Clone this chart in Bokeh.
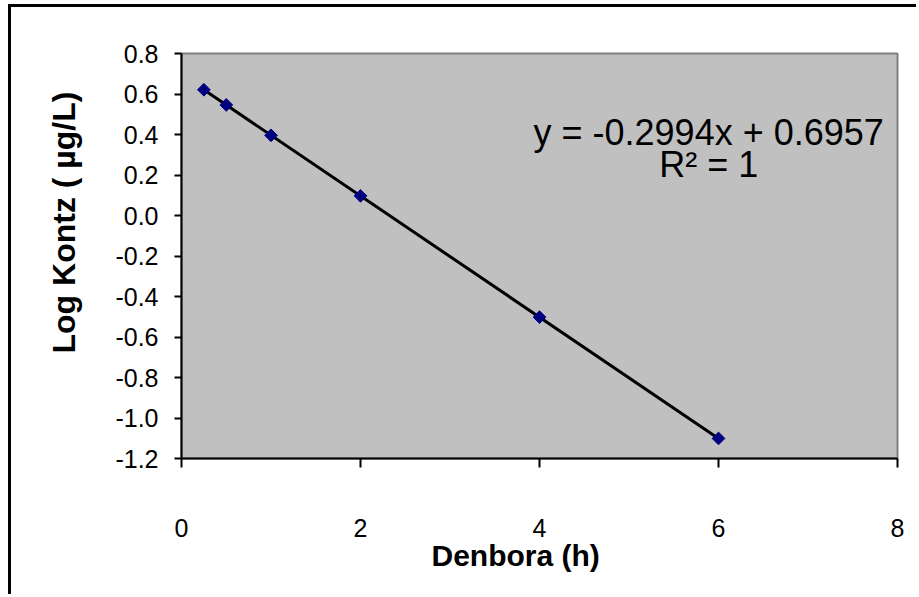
import numpy as np
from bokeh.plotting import figure
from bokeh.models import Range1d, FixedTicker, NumeralTickFormatter, Label, Title
from bokeh.embed import file_html
from bokeh.resources import INLINE

# ---- data ----
hours = [0.25, 0.5, 1, 2, 4, 6]
log_conc = [0.621, 0.546, 0.396, 0.097, -0.502, -1.101]
x_ticks = [0, 2, 4, 6, 8]
y_ticks = [-1.2, -1.0, -0.8, -0.6, -0.4, -0.2, 0.0, 0.2, 0.4, 0.6, 0.8]
x_title = "Denbora (h)"
y_title = "Log Kontz ( µg/L)"
eq_text = "y = -0.2994x + 0.6957"
r2_text = "R² = 1"

# linear trendline fitted from the data
slope, intercept = np.polyfit(hours, log_conc, 1)
trend_x = [min(hours), max(hours)]
trend_y = [slope * v + intercept for v in trend_x]

FONT = "Liberation Sans"

p = figure(width=908, height=590, output_backend="svg", toolbar_location=None,
           x_range=Range1d(0, 8), y_range=Range1d(-1.2, 0.8),
           min_border_left=170, min_border_right=22, min_border_top=46, min_border_bottom=139)
p.styles = {"margin-left": "8px", "margin-top": "4px",
            "border-left": "3px solid black", "border-top": "3px solid black"}

p.background_fill_color = "#C0C0C0"
p.border_fill_color = "white"
p.outline_line_color = "#808080"
p.outline_line_width = 2
p.xgrid.visible = False
p.ygrid.visible = False

for ax in (p.xaxis[0], p.yaxis[0]):
    ax.axis_line_color = "black"
    ax.axis_line_width = 2
    ax.major_tick_line_color = "black"
    ax.major_tick_line_width = 2
    ax.major_tick_in = 0
    ax.minor_tick_line_color = None
    ax.major_label_text_font = FONT
    ax.major_label_text_font_size = "25px"
    ax.major_label_text_color = "black"

p.xaxis.ticker = FixedTicker(ticks=x_ticks)
p.yaxis.ticker = FixedTicker(ticks=y_ticks)
p.xaxis.formatter = NumeralTickFormatter(format="0")
p.yaxis.formatter = NumeralTickFormatter(format="0.0")
p.xaxis.major_tick_out = 9
p.yaxis.major_tick_out = 7
p.xaxis.major_label_standoff = 51
p.yaxis.major_label_standoff = 16

# axis titles (placed slightly off-centre, as in the original)
p.add_layout(Title(text=x_title, align="left", offset=250, standoff=-6,
                   text_font=FONT, text_font_style="bold", text_font_size="30px",
                   text_color="black"), "below")
p.add_layout(Title(text=y_title, align="left", offset=105, standoff=62,
                   text_font=FONT, text_font_style="bold", text_font_size="32px",
                   text_color="black"), "left")

p.line(trend_x, trend_y, line_color="black", line_width=3)
p.scatter(hours, log_conc, marker="square", size=9, angle=np.pi / 4,
          fill_color="#000080", line_color="#000080")

p.add_layout(Label(x=5.89, y=0.41, text=eq_text, text_align="center", text_baseline="middle",
                   text_font=FONT, text_font_size="36px", text_color="black"))
p.add_layout(Label(x=5.89, y=0.25, text=r2_text, text_align="center", text_baseline="middle",
                   text_font=FONT, text_font_size="36px", text_color="black"))

open("out.html", "w").write(file_html(p, INLINE))
